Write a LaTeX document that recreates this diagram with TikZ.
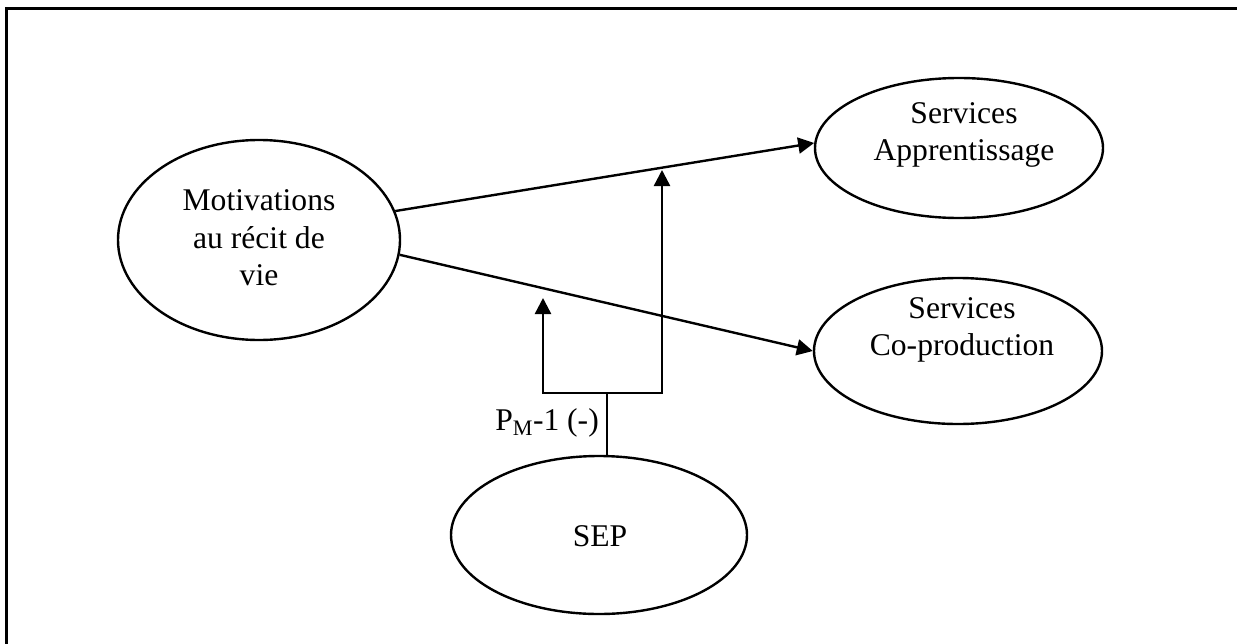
\documentclass[tikz,border=0pt]{standalone}
\usepackage{fontspec}
\setmainfont{Liberation Serif}
\usetikzlibrary{arrows.meta,shapes.geometric}
\begin{document}
\begin{tikzpicture}[x=1pt,y=-1pt,
  oval/.style={ellipse,draw,line width=2.4pt,inner sep=0pt},
  lbl/.style={align=center,inner sep=0pt,font=\fontsize{31.6}{37.5}\selectfont},
  link/.style={line width=2.4pt},
  arr/.style={line width=2.4pt,-{Triangle[length=16pt,width=16pt]}}]
\clip (0,0) rectangle (1237,643);
\draw[line width=3pt,black] (6,700) -- (6,8.3) -- (1300,8.3);
% ellipses
\node[oval,minimum width=282pt,minimum height=200pt] (mot) at (259,240) {};
\node[oval,minimum width=288pt,minimum height=140pt] (app) at (959,148) {};
\node[oval,minimum width=288pt,minimum height=146pt] (cop) at (958,351) {};
\node[oval,minimum width=296pt,minimum height=158pt] (sep) at (599,535) {};
% texts
\node[lbl] (tmot) at (259,238) {Motivations\\au récit de\\vie};
\node[lbl] (tapp) at (964,135) {Services\\Apprentissage};
\node[lbl] (tcop) at (962,330) {Services\\Co-production};
\node[lbl] (tsep) at (600,536.5) {SEP};
% main arrows
\draw[arr] (mot.12) -- (app.178);
\draw[arr] (mot.-6) -- (cop.west);
% moderation bracket
\coordinate (j) at (607,393);
\coordinate (tl) at (543,298);
\coordinate (tr) at (662,170);
\draw[link] (j |- sep.north) -- (j);
\draw[arr] (j) -| (tl);
\draw[arr] (j) -| (tr);
\node[lbl,anchor=base east] (pm) at (599,430) {P\textsubscript{M}-1 (-)};
\end{tikzpicture}
\end{document}
